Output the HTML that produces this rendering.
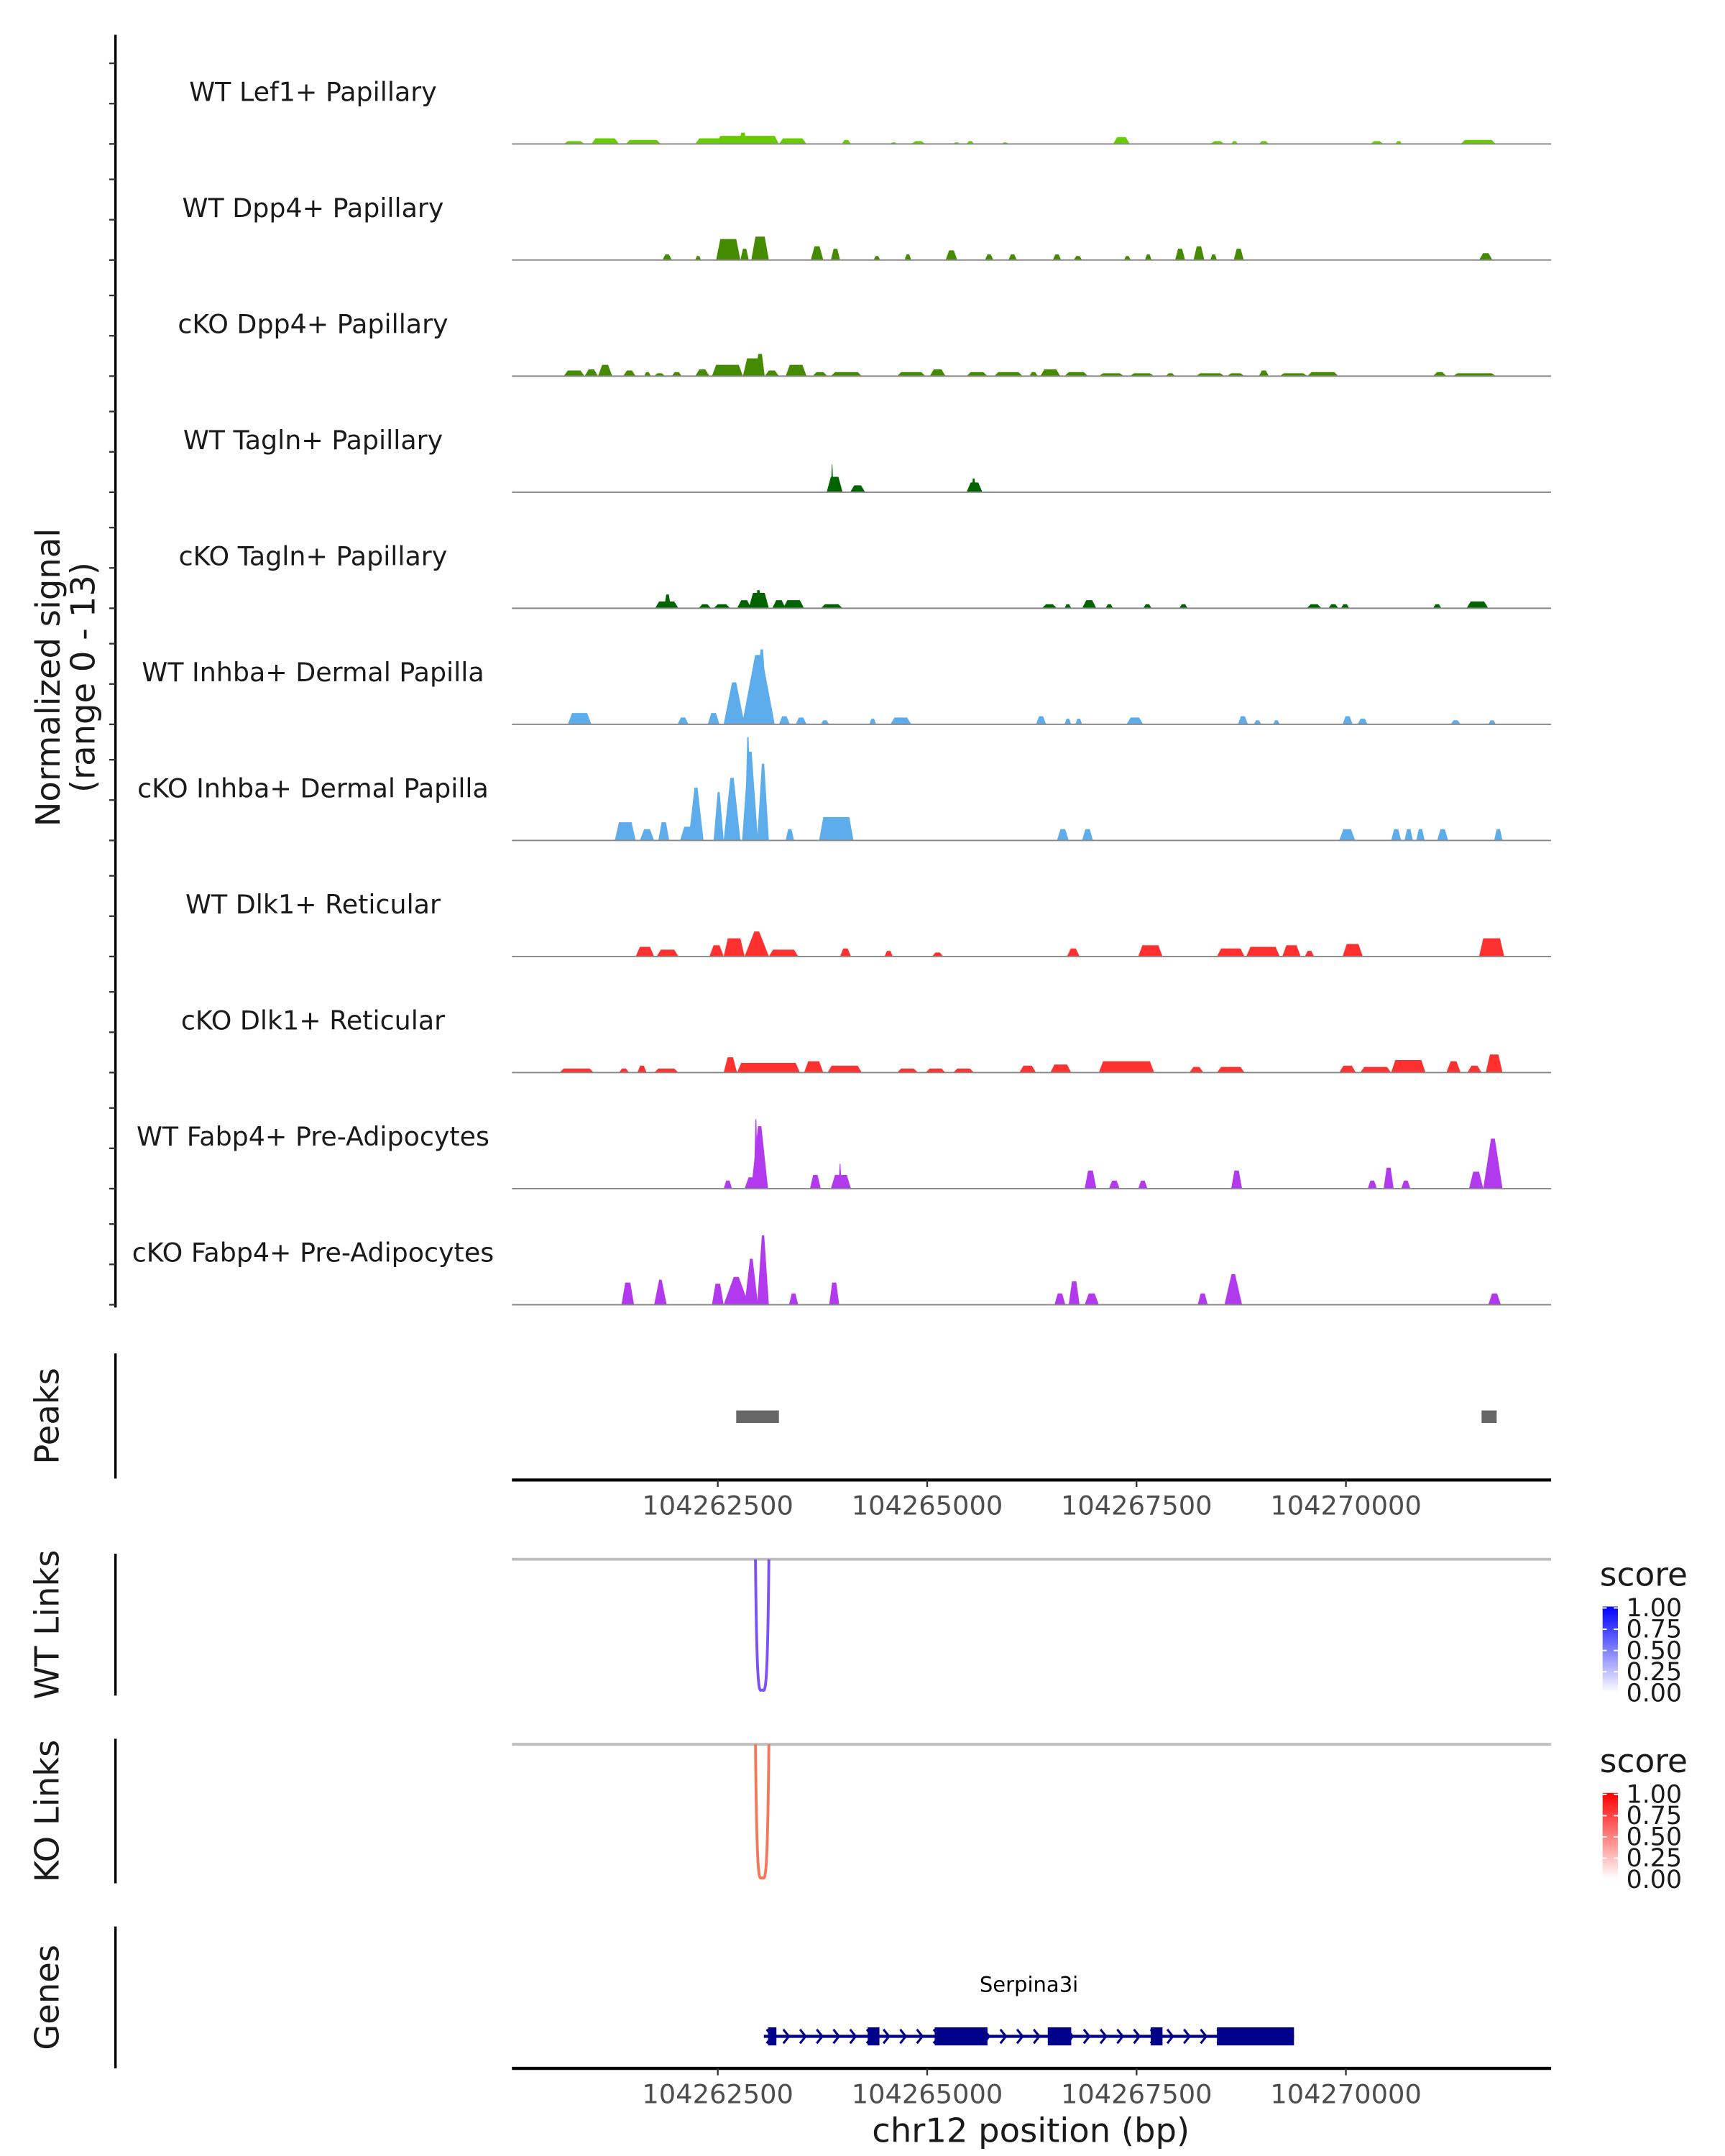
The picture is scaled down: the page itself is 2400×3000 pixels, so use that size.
<!DOCTYPE html>
<html><head><meta charset="utf-8"><style>
html,body{margin:0;padding:0;background:#fff;}
svg{display:block;font-family:"DejaVu Sans","Liberation Sans",sans-serif;}
</style></head><body>
<svg id="chart" xmlns="http://www.w3.org/2000/svg" width="2400" height="3000" viewBox="0 0 1240 1550">
</svg>
<script>
// Data (positions in kb offset from chr12:104260000; heights in normalized signal)
const trackNames=["WT Lef1+ Papillary","WT Dpp4+ Papillary","cKO Dpp4+ Papillary","WT Tagln+ Papillary","cKO Tagln+ Papillary","WT Inhba+ Dermal Papilla","cKO Inhba+ Dermal Papilla","WT Dlk1+ Reticular","cKO Dlk1+ Reticular","WT Fabp4+ Pre-Adipocytes","cKO Fabp4+ Pre-Adipocytes"];
const trackColors=["#66CC00","#458B00","#458B00","#006400","#006400","#5DADEC","#5DADEC","#FF3030","#FF3030","#B23AEE","#B23AEE"];
const lef1WT=[[0.66,0.91,0.35],[0.99,1.32,0.7],[1.40,1.82,0.5],[2.23,2.57,0.7],[2.48,3.23,1.0],[2.75,2.85,1.4],[3.23,3.56,0.7],[3.98,4.09,0.5],[4.56,4.64,0.2],[4.81,4.98,0.35],[5.31,5.39,0.2],[5.47,5.56,0.35],[5.89,5.97,0.2],[7.22,7.42,0.85],[8.38,8.55,0.35],[8.63,8.71,0.35],[8.96,9.08,0.35],[10.29,10.45,0.35],[10.59,10.67,0.35],[11.37,11.79,0.5]];
const dpp4WT=[[1.84,1.95,0.7],[2.23,2.30,0.5],[2.48,2.77,2.6],[2.77,2.87,1.4],[2.90,3.11,2.9],[3.61,3.76,1.7],[3.85,3.96,1.4],[4.36,4.44,0.5],[4.73,4.81,0.7],[5.22,5.36,1.2],[5.69,5.79,0.7],[5.97,6.07,0.7],[6.50,6.60,0.7],[6.75,6.85,0.5],[7.35,7.43,0.5],[7.60,7.68,0.7],[7.96,8.08,1.4],[8.18,8.31,1.7],[8.38,8.46,0.7],[8.66,8.78,1.4],[11.59,11.75,0.85]];
const dpp4KO=[[0.66,0.91,0.7],[0.91,1.07,0.85],[1.07,1.24,1.4],[1.37,1.52,0.7],[1.62,1.70,0.5],[1.74,1.87,0.35],[1.95,2.07,0.5],[2.23,2.40,0.85],[2.43,2.80,1.4],[2.80,3.03,2.2],[2.95,3.06,2.75],[3.06,3.23,0.7],[3.31,3.56,1.4],[3.63,3.81,0.5],[3.85,4.22,0.5],[4.64,4.98,0.5],[5.03,5.22,0.85],[5.47,5.72,0.5],[5.80,6.14,0.5],[6.22,6.32,0.5],[6.35,6.59,0.85],[6.64,6.92,0.5],[7.05,7.35,0.35],[7.42,7.71,0.35],[7.85,7.96,0.35],[8.21,8.55,0.35],[8.58,8.79,0.35],[8.96,9.08,0.7],[9.21,9.54,0.35],[9.54,9.91,0.5],[11.04,11.20,0.5],[11.28,11.79,0.35]];
const taglnWT=[[3.80,3.99,1.9],[3.85,3.88,3.45],[4.08,4.26,0.85],[5.47,5.66,1.2],[5.53,5.58,1.7]];
const taglnKO=[[1.75,2.03,0.85],[1.86,1.94,1.7],[2.27,2.42,0.5],[2.45,2.65,0.5],[2.73,2.90,1.0],[2.87,3.11,1.9],[2.95,3.02,2.25],[3.15,3.31,1.0],[3.28,3.53,1.0],[3.73,3.99,0.5],[6.37,6.55,0.5],[6.64,6.72,0.5],[6.85,7.02,1.0],[7.13,7.22,0.5],[7.58,7.68,0.5],[8.01,8.11,0.5],[9.53,9.71,0.5],[9.79,9.91,0.5],[9.94,10.04,0.5],[11.04,11.14,0.5],[11.44,11.70,0.85]];
const inhbaWT=[[0.71,0.99,1.4],[2.02,2.15,0.85],[2.38,2.52,1.4],[2.57,2.82,5.2],[2.79,3.18,8.6],[2.95,3.10,9.3],[3.23,3.36,1.0],[3.43,3.56,0.85],[3.73,3.83,0.5],[4.31,4.39,0.7],[4.56,4.81,0.85],[6.30,6.42,1.0],[6.64,6.72,0.7],[6.77,6.85,0.7],[7.38,7.58,0.85],[8.71,8.83,1.0],[8.90,8.99,0.5],[9.13,9.21,0.5],[9.96,10.08,1.0],[10.14,10.26,0.7],[11.25,11.37,0.5],[11.70,11.79,0.5]];
const inhbaKO=[[1.27,1.52,2.25],[1.57,1.74,1.4],[1.79,1.92,2.25],[2.05,2.23,1.7],[2.15,2.33,6.55],[2.45,2.57,6.0],[2.57,2.77,7.75],[2.79,2.98,11.0],[2.82,2.90,12.8],[2.97,3.11,9.5],[3.31,3.41,1.4],[3.71,4.12,2.9],[6.55,6.69,1.4],[6.85,6.98,1.4],[9.92,10.11,1.4],[10.54,10.66,1.4],[10.70,10.80,1.4],[10.84,10.94,1.4],[11.09,11.22,1.4],[11.77,11.87,1.4]];
const dlk1WT=[[1.52,1.74,1.2],[1.77,2.03,0.85],[2.40,2.57,1.4],[2.57,2.82,2.25],[2.82,3.11,3.1],[3.11,3.46,0.85],[3.96,4.09,1.0],[4.49,4.59,0.7],[5.06,5.19,0.5],[6.67,6.82,1.0],[7.52,7.81,1.4],[8.46,8.79,1.0],[8.81,9.21,1.2],[9.24,9.46,1.4],[9.51,9.62,0.7],[9.96,10.20,1.55],[11.59,11.89,2.25]];
const dlk1KO=[[0.61,1.02,0.5],[1.32,1.44,0.5],[1.54,1.65,0.85],[1.74,2.03,0.5],[2.57,2.73,1.9],[2.73,3.48,1.2],[3.53,3.76,1.4],[3.81,4.22,0.85],[4.64,4.89,0.5],[4.98,5.22,0.5],[5.31,5.56,0.5],[6.10,6.30,0.85],[6.47,6.72,1.0],[7.05,7.71,1.4],[8.13,8.30,0.7],[8.46,8.79,0.7],[9.92,10.12,0.85],[10.17,10.54,0.7],[10.54,10.95,1.55],[11.20,11.37,1.4],[11.45,11.62,0.85],[11.67,11.87,2.25]];
const fabp4WT=[[2.57,2.67,1.0],[2.82,2.98,1.4],[2.90,3.10,7.75],[2.93,2.98,8.6],[3.60,3.73,1.7],[3.85,4.09,1.7],[3.94,3.98,3.1],[6.88,7.02,2.25],[7.17,7.30,1.0],[7.52,7.63,1.0],[8.63,8.76,2.25],[10.26,10.37,1.0],[10.45,10.57,2.6],[10.66,10.77,1.0],[11.47,11.64,2.1],[11.64,11.87,6.2]];
const fabp4KO=[[1.35,1.50,2.75],[1.74,1.89,3.1],[2.43,2.57,2.6],[2.57,2.87,3.45],[2.82,2.98,5.7],[2.97,3.11,8.6],[3.35,3.46,1.4],[3.83,3.95,2.75],[6.52,6.65,1.4],[6.69,6.82,2.9],[6.88,7.05,1.4],[8.23,8.35,1.4],[8.55,8.76,3.8],[11.70,11.85,1.4]];
const peakRegions=[[2.72,3.23],[11.62,11.80]];
const xTickValues=[2.5,5.0,7.5,10.0];
const xTickLabels=["104262500","104265000","104267500","104270000"];
const yTickValues=[0,5,10];
const linkAnchorsWT=[2.95,3.11];
const linkAnchorsKO=[2.95,3.11];
const geneSpan=[3.05,9.38];
const exonStarts=[3.10,4.29,5.09,6.44,7.67,8.46];
const exonEnds=[3.20,4.43,5.72,6.72,7.81,9.38];
const legendTicks=["1.00","0.75","0.50","0.25","0.00"];

const NS="http://www.w3.org/2000/svg";
const svg=document.getElementById("chart");
const X0=368,X1=1115,D0=0.042,D1=12.45,UNIT=5.8;
function xs(kb){return X0+(kb-D0)/(D1-D0)*(X1-X0);}
function mk(tag,attrs,parent){const e=document.createElementNS(NS,tag);for(const k in attrs)e.setAttribute(k,attrs[k]);(parent||svg).appendChild(e);return e;}
const allTracks=[lef1WT,dpp4WT,dpp4KO,taglnWT,taglnKO,inhbaWT,inhbaKO,dlk1WT,dlk1KO,fabp4WT,fabp4KO];
const base0=103.5,step=83.45;

let ax=mk("line",{x1:83,y1:25,x2:83,y2:940,stroke:"#000","stroke-width":1.8});


allTracks.forEach((peaks,i)=>{
  const base=base0+i*step;
  const g=mk("g",{});
  
  
  yTickValues.forEach(v=>{
    const t=mk("line",{x1:78.5,x2:83,y1:base-v*UNIT,y2:base-v*UNIT,stroke:"#333","stroke-width":1.2},g);
    
    
  });
  const lab=mk("text",{x:225,y:base-31,"font-size":18.8,"text-anchor":"middle",fill:"#1a1a1a"},g);
  lab.textContent=trackNames[i];
  
  
  peaks.forEach(p=>{
    const xa=xs(p[0]),xb=xs(p[1]),top=base-p[2]*UNIT,w=xb-xa;
    const r=p[2]>3?w*0.4:Math.min(w*0.3,3);
    const poly=mk("polygon",{points:`${xa},${base} ${xa+r},${top} ${xb-r},${top} ${xb},${base}`,fill:trackColors[i]},g);
    
    
  });
  const bl=mk("line",{x1:X0,x2:X1,y1:base,y2:base,stroke:"#888","stroke-width":1},g);
  
  
});
function vtext(txt,x,y,name,size){const t=mk("text",{x:x,y:y,"font-size":size||24,"text-anchor":"middle",fill:"#1a1a1a",transform:`rotate(-90 ${x} ${y})`});t.textContent=txt;return t;}
vtext("Normalized signal",43,487,"y-axis-title");
vtext("(range 0 - 13)",68,487,"y-axis-subtitle");

let l=mk("line",{x1:83,x2:83,y1:973,y2:1063,stroke:"#000","stroke-width":1.8});
vtext("Peaks",42,1018,"peaks-title");
peakRegions.forEach(p=>{const r=mk("rect",{x:xs(p[0]),y:1014,width:xs(p[1])-xs(p[0]),height:9,fill:"#666"});});
function xAxis(y,name){
  const a=mk("line",{x1:X0,x2:X1,y1:y,y2:y,stroke:"#000","stroke-width":2.2});
  
  
  xTickValues.forEach((v,i)=>{
    const t=mk("line",{x1:xs(v),x2:xs(v),y1:y,y2:y+5,stroke:"#333","stroke-width":1.2});
    
    
    const tl=mk("text",{x:xs(v),y:y+25,"font-size":19,"text-anchor":"middle",fill:"#4d4d4d"});
    tl.textContent=xTickLabels[i];
    
    
  });
}
xAxis(1064,"peaks-x-axis");

function links(y0,y1,anchors,color,title,name,legY,gradId,gradColor){
  let a=mk("line",{x1:83,x2:83,y1:y0-4,y2:y1+4,stroke:"#000","stroke-width":1.8});
  vtext(title,42,(y0+y1)/2,name+'-title');
  let g=mk("line",{x1:X0,x2:X1,y1:y0,y2:y0,stroke:"#bebebe","stroke-width":2});
  const xa=xs(anchors[0]),xb=xs(anchors[1]),xm=(xa+xb)/2;
  let p=mk("path",{d:`M${xa},${y0} C${xa+1},${y1+10} ${xm-2},${y1} ${xm},${y1} C${xm+2},${y1} ${xb-1},${y1+10} ${xb},${y0}`,fill:"none",stroke:color,"stroke-width":2});
  
  let st=mk("text",{x:1150,y:legY,"font-size":23.5,fill:"#1a1a1a"});st.textContent="score";
  const defs=mk("defs",{});const lg=mk("linearGradient",{id:gradId,x1:0,y1:0,x2:0,y2:1},defs);
  mk("stop",{offset:"0","stop-color":gradColor},lg);mk("stop",{offset:"1","stop-color":"#ffffff"},lg);
  let bar=mk("rect",{x:1152,y:legY+15,width:11,height:62,fill:`url(#${gradId})`});
  legendTicks.forEach((t,i)=>{const ty=legY+16+i*15.3;
    mk("line",{x1:1152,x2:1155,y1:ty,y2:ty,stroke:"#fff","stroke-width":1});
    mk("line",{x1:1160,x2:1163,y1:ty,y2:ty,stroke:"#fff","stroke-width":1});
    const tt=mk("text",{x:1169,y:ty+6,"font-size":18,fill:"#1a1a1a"});tt.textContent=t;});
}
links(1121,1215,linkAnchorsWT,"#7B52F5","WT Links","wt-links",1140,"gwt","#0000ff");
links(1254,1350,linkAnchorsKO,"#F4775A","KO Links","ko-links",1274,"gko","#ff0000");

let ga=mk("line",{x1:83,x2:83,y1:1385,y2:1487,stroke:"#000","stroke-width":1.8});
vtext("Genes",42,1436,"genes-title");
let gn=mk("text",{x:(xs(geneSpan[0])+xs(geneSpan[1]))/2,y:1432,"font-size":15,"text-anchor":"middle",fill:"#000"});gn.textContent="Serpina3i";
let gl=mk("line",{x1:xs(geneSpan[0]),x2:xs(geneSpan[1]),y1:1464,y2:1464,stroke:"#00008B","stroke-width":2.2});
for(let x=xs(geneSpan[0])+2;x<xs(geneSpan[1]);x+=12){
  mk("path",{d:`M${x},${1459} L${x+4},${1464} L${x},${1469}`,fill:"none",stroke:"#00008B","stroke-width":1.6});
}
exonStarts.forEach((s,i)=>{const r=mk("rect",{x:xs(s),y:1457.5,width:xs(exonEnds[i])-xs(s),height:13,fill:"#00008B"});});
xAxis(1487,"genes-x-axis");
let xt=mk("text",{x:741,y:1540,"font-size":24,"text-anchor":"middle",fill:"#1a1a1a"});xt.textContent="chr12 position (bp)";
</script>
</body></html>
